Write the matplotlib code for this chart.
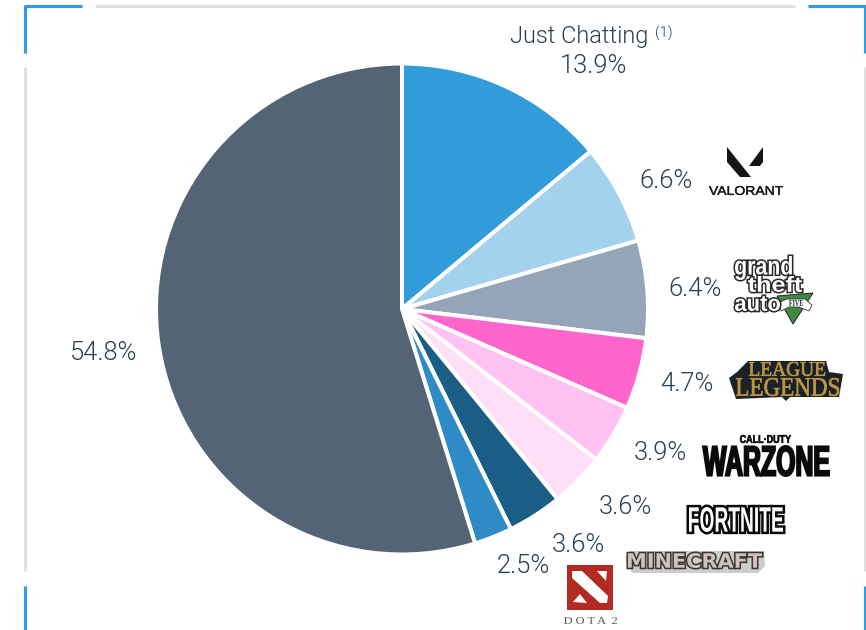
import matplotlib
matplotlib.use("Agg")
import matplotlib.pyplot as plt
import matplotlib.patheffects as pe
from matplotlib.patches import Polygon, Rectangle
from matplotlib.textpath import TextPath
from matplotlib.transforms import Affine2D
from matplotlib.font_manager import FontProperties

# Share of hours watched per streaming category, clockwise from the top
categories = ["Just Chatting", "Valorant", "Grand Theft Auto V", "League of Legends",
              "Call of Duty: Warzone", "Fortnite", "Minecraft", "Dota 2", "Other"]
shares = [13.9, 6.6, 6.4, 4.7, 3.9, 3.6, 3.6, 2.5, 54.8]
slice_colors = ["#319CD9", "#A3D2EC", "#95A5B8", "#FF66CC", "#FFC2F2",
                "#FFDFF7", "#1A5E85", "#2E8BC5", "#536475"]
label_centers = [(593, 65), (666, 180), (695, 288), (687, 383), (660, 452),
                 (625, 506), (578, 544), (523, 565), (104, 352)]

W, H = 866, 630
INK = "#2C3E50"
BLUE = "#349BDC"
GREY = "#E0E0E0"

fig = plt.figure(figsize=(W / 100, H / 100), dpi=100, facecolor="white")

# Pie, positioned in pixel terms
pie_ax = fig.add_axes([156 / W, (H - 554.5) / H, 492 / W, 491 / H])
pie_ax.pie(shares, colors=slice_colors, startangle=90, counterclock=False, radius=1,
           wedgeprops=dict(edgecolor="white", linewidth=2.9))
pie_ax.set_xlim(-1, 1)
pie_ax.set_ylim(-1, 1)
pie_ax.set_aspect("auto")
pie_ax.axis("off")

# Full-figure overlay in pixel coordinates for frame, labels and logos
ov = fig.add_axes([0, 0, 1, 1])
ov.set_xlim(0, W)
ov.set_ylim(H, 0)
ov.axis("off")
ov.patch.set_alpha(0)


def seg(x0, y0, x1, y1, color, lw):
    ov.plot([x0, x1], [y0, y1], color=color, lw=lw, solid_capstyle="butt", clip_on=False)


# Frame: blue corners with grey runs between them
for a in [(25, 6, 82, 6), (25, 5, 25, 53), (808, 6, 866, 6), (865, 5, 865, 53),
          (25, 586, 25, 630), (865, 586, 865, 630)]:
    seg(*a, BLUE, 2.3)
for a in [(95, 6, 795, 6), (25, 67, 25, 571), (865, 67, 865, 571)]:
    seg(*a, GREY, 2.3)

# Value labels
LIGHT = dict(family=["Roboto", "DejaVu Sans"], weight=300, color=INK, ha="center", va="center")
for value, (x, y) in zip(shares, label_centers):
    ov.text(x, y + 1, f"{value}%", fontsize=18.4, **LIGHT)
ov.text(579, 37, categories[0], fontsize=17, **LIGHT)
ov.text(664, 33, "(1)", fontsize=10.5, **LIGHT)


class TallGlyphs(pe.AbstractPathEffect):
    """Stretches text vertically about its baseline and strokes it behind its fill."""

    def __init__(self, base_y, sy, stroke=None, width=0):
        super().__init__()
        self.stretch = Affine2D().translate(0, -base_y).scale(1, sy).translate(0, base_y)
        self.stroke = stroke
        self.width = width

    def draw_path(self, renderer, gc, tpath, affine, rgbFace=None):
        aff = affine + self.stretch
        if self.stroke:
            gc0 = renderer.new_gc()
            gc0.copy_properties(gc)
            gc0.set_foreground(self.stroke)
            gc0.set_linewidth(self.width)
            gc0.set_joinstyle("miter")
            renderer.draw_path(gc0, tpath, aff, matplotlib.colors.to_rgb(self.stroke))
            gc0.restore()
        renderer.draw_path(gc, tpath, aff, rgbFace)


def boxed(s, x0, y0, x1, y1, color, stroke=None, width=0, family="Liberation Sans",
          weight="bold", style="normal"):
    """Places real text so that its glyphs fill the pixel box (x0, y0)-(x1, y1)."""
    prop = FontProperties(family=family, weight=weight, style=style)
    ink = TextPath((0, 0), s, size=10, prop=prop).get_extents()
    # Font size comes from the box width; the box height is reached by stretching
    scale = (x1 - x0) / ink.width
    size = 10 * scale * 72 / 100
    sy = (y1 - y0) / (ink.height * scale)
    base_px = y1 + ink.y0 * scale * sy
    t = ov.text(x0 - ink.x0 * scale, base_px, s, fontproperties=prop, fontsize=size,
                color=color, ha="left", va="baseline")
    t.set_path_effects([TallGlyphs(H - base_px, sy, stroke, width)])
    return t


# Valorant
ov.add_patch(Polygon([(727, 147), (727, 162), (740, 177), (751, 177)], fc="#141414", ec="none"))
ov.add_patch(Polygon([(763, 147), (763, 162), (760, 166), (749, 166)], fc="#141414", ec="none"))
boxed("VALORANT", 709, 186, 783, 195, "#1A1A1A", "#1A1A1A", 0.3, weight="normal")

# Grand Theft Auto V
ov.add_patch(Polygon([(777, 296), (813, 293), (793, 324)], fc="#3F8A3C", ec="#222222", lw=0.7))
boxed("grand", 735, 256, 792, 280, "white", "#2A2A2A", 2.2)
boxed("theft", 748, 276, 802, 292, "white", "#2A2A2A", 2.2)
boxed("auto", 735, 296, 780, 311, "white", "#2A2A2A", 2.2)
ov.add_patch(Polygon([(778, 303), (787, 299), (805, 299), (812, 305), (809, 311), (799, 307),
                      (789, 307), (781, 311)], fc="white", ec="#333333", lw=0.6))
boxed("FIVE", 789, 300, 803, 306, "#222222", family="Liberation Serif")

# League of Legends
ov.add_patch(Polygon([(729, 378), (737, 372), (748, 361), (826, 361), (829, 372), (843, 374),
                      (839, 397), (790, 397), (786, 401), (782, 397), (736, 399)],
                     fc="#1B2128", ec="none"))
boxed("LEAGUE", 749, 362, 825, 376, "#B9963F", "#B9963F", 0.4, family="Liberation Serif", weight="normal")
boxed("LEGENDS", 736, 378, 839, 396, "#B9963F", "#B9963F", 0.4, family="Liberation Serif", weight="normal")

# Call of Duty: Warzone
boxed("CALL·DUTY", 740, 435, 791, 443, "#111111", "#111111", 0.4)
boxed("WARZONE", 703, 446, 829, 476, "#0A0A0A", "#0A0A0A", 1.4)

# Fortnite
boxed("FORTNITE", 689, 507, 783, 532, "white", "#0A0A0A", 3.6)

# Minecraft
ov.add_patch(Polygon([(625, 558), (630, 551), (764, 551), (765, 566), (758, 573), (632, 573)],
                     fc="#3A3634", ec="none", alpha=0.25))
boxed("MINECRAFT", 628, 553, 762, 568, "#CFC2BE", "#3A3634", 2.2, family="DejaVu Sans")

# Dota 2
ov.add_patch(Rectangle((567, 565), 46, 45, fc="#B32A22", ec="none"))
ov.add_patch(Polygon([(572, 571), (582, 571), (608, 596), (607, 603), (600, 603), (572, 578)],
                     fc="white", ec="none"))
ov.add_patch(Polygon([(597, 571), (607, 571), (606, 581)], fc="white", ec="none"))
ov.add_patch(Polygon([(573, 602), (580, 594), (587, 603)], fc="white", ec="none"))
boxed("D O T A  2", 564, 617, 617, 624, "#555555", family="Liberation Serif", weight="normal")

fig.savefig("out.png", dpi=100)
